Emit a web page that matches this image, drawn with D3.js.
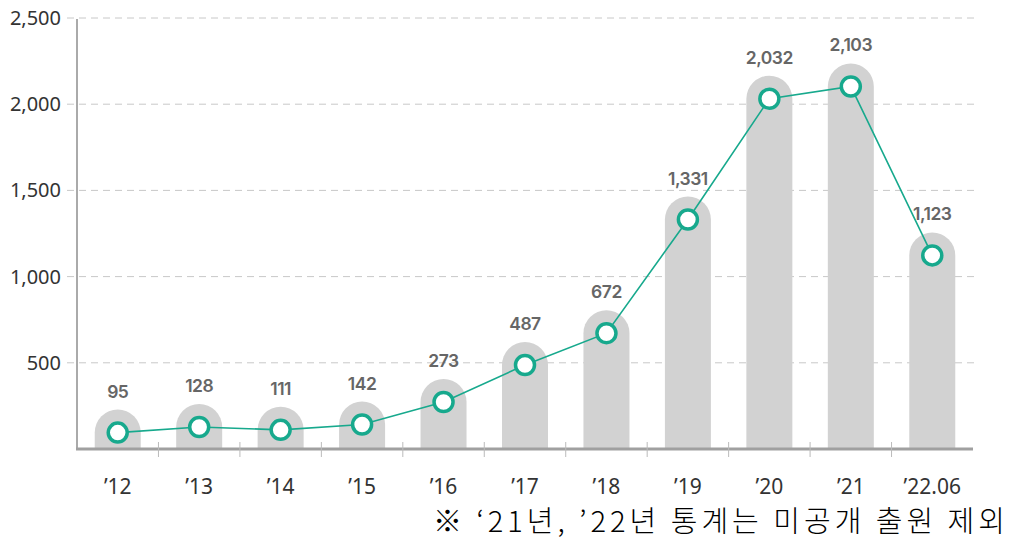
<!DOCTYPE html>
<html>
<head>
<meta charset="utf-8">
<script src="https://cdn.jsdelivr.net/npm/d3@7"></script>
<style>
  body { margin: 0; background: #fff; }
  svg { display: block; }
</style>
</head>
<body>
<div id="chart"></div>
<script>
const categories = ['\u201912', '\u201913', '\u201914', '\u201915', '\u201916', '\u201917', '\u201918', '\u201919', '\u201920', '\u201921', '\u201922.06'];
const values = [95, 128, 111, 142, 273, 487, 672, 1331, 2032, 2103, 1123];
const yTicks = [500, 1000, 1500, 2000, 2500];
const footnote = '\u203B \u201821\uB144, \u201922\uB144 \uD1B5\uACC4\uB294 \uBBF8\uACF5\uAC1C \uCD9C\uC6D0 \uC81C\uC678';

const width = 1013, height = 540;
const margin = { left: 77, right: 40, top: 18, bottom: 91 };

const svg = d3.select('#chart').append('svg')
  .attr('width', width)
  .attr('height', height);

const x = d3.scaleBand()
  .domain(categories)
  .range([margin.left, width - margin.right])
  .padding(0);

const y = d3.scaleLinear()
  .domain([0, 2500])
  .range([height - margin.bottom, margin.top]);

const barW = 46;
const r = barW / 2;

// gridlines
svg.append('g')
  .selectAll('line')
  .data(yTicks)
  .join('line')
  .attr('x1', margin.left - 10)
  .attr('x2', width - margin.right + 2)
  .attr('y1', d => y(d))
  .attr('y2', d => y(d))
  .attr('stroke', '#c8c8c8')
  .attr('stroke-width', 1)
  .attr('stroke-dasharray', '7,5');

// y labels
svg.append('g')
  .selectAll('text')
  .data(yTicks)
  .join('text')
  .attr('x', margin.left - 16)
  .attr('y', d => y(d))
  .attr('dy', '0.35em')
  .attr('text-anchor', 'end')
  .style('font-family', '"Noto Sans", sans-serif')
  .style('font-size', '20px')
  .attr('fill', '#333')
  .text(d => d3.format(',')(d));

// bars with rounded tops
svg.append('g')
  .selectAll('path')
  .data(values)
  .join('path')
  .attr('fill', '#d2d2d2')
  .attr('d', (d, i) => {
    const cx = x(categories[i]) + x.bandwidth() / 2;
    const top = y(d);
    const base = y(0);
    return `M${cx - r},${base} L${cx - r},${top} A${r},${r} 0 0 1 ${cx + r},${top} L${cx + r},${base} Z`;
  });

// axes lines
svg.append('line')
  .attr('x1', margin.left).attr('x2', margin.left)
  .attr('y1', margin.top + 1).attr('y2', y(0))
  .attr('stroke', '#aaa').attr('stroke-width', 2);

svg.append('line')
  .attr('x1', margin.left - 1).attr('x2', width - margin.right)
  .attr('y1', y(0)).attr('y2', y(0))
  .attr('stroke', '#a0a0a0').attr('stroke-width', 3);

// x ticks between categories
svg.append('g')
  .selectAll('line')
  .data(categories.slice(1))
  .join('line')
  .attr('x1', d => x(d))
  .attr('x2', d => x(d))
  .attr('y1', y(0) - 7)
  .attr('y2', y(0) + 8)
  .attr('stroke', '#bbb')
  .attr('stroke-width', 1);

// x labels
svg.append('g')
  .selectAll('text')
  .data(categories)
  .join('text')
  .attr('x', d => x(d) + x.bandwidth() / 2)
  .attr('y', y(0) + 45)
  .attr('text-anchor', 'middle')
  .style('font-family', '"Noto Sans", sans-serif')
  .style('font-size', '21px')
  .attr('fill', '#333')
  .text(d => d);

// line
const line = d3.line()
  .x((d, i) => x(categories[i]) + x.bandwidth() / 2)
  .y(d => y(d));

svg.append('path')
  .datum(values)
  .attr('fill', 'none')
  .attr('stroke', '#17a98d')
  .attr('stroke-width', 1.6)
  .attr('d', line);

svg.append('g')
  .selectAll('circle')
  .data(values)
  .join('circle')
  .attr('cx', (d, i) => x(categories[i]) + x.bandwidth() / 2)
  .attr('cy', d => y(d))
  .attr('r', 9.5)
  .attr('fill', '#fff')
  .attr('stroke', '#17a98d')
  .attr('stroke-width', 3.5);

// value labels
svg.append('g')
  .selectAll('text')
  .data(values)
  .join('text')
  .attr('x', (d, i) => x(categories[i]) + x.bandwidth() / 2)
  .attr('y', d => y(d) - 35)
  .attr('text-anchor', 'middle')
  .style('font-family', 'Inter, sans-serif')
  .style('font-size', '17.5px')
  .style('font-weight', '600')
  .style('letter-spacing', '-0.5px')
  .attr('fill', '#666')
  .text(d => d3.format(',')(d));

// footnote
svg.append('text')
  .attr('x', 433)
  .attr('y', 532)
  .attr('textLength', 572)
  .attr('lengthAdjust', 'spacing')
  .style('font-family', '"Noto Sans CJK KR", sans-serif')
  .style('font-size', '29px')
  .style('font-weight', '300')
  .attr('fill', '#000')
  .text(footnote);
</script>
</body>
</html>
